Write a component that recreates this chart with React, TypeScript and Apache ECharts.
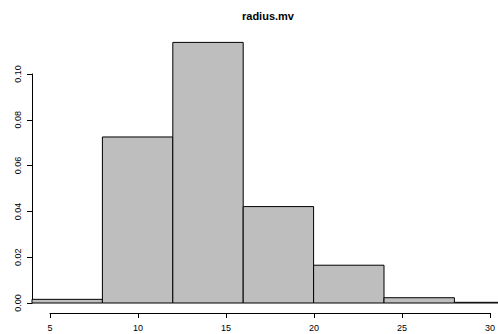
import React, { useEffect, useRef } from "react";
import * as echarts from "echarts";

const titleText = "radius.mv";
const breaks = [4, 8, 12, 16, 20, 24, 28];
const binWidth = 4;
const densities = [0.0016, 0.0725, 0.1138, 0.0421, 0.0165, 0.0023, 0.0003];
const xTicks = [5, 10, 15, 20, 25, 30];
const yTicks = [0, 0.02, 0.04, 0.06, 0.08, 0.1];

const FONT = "Liberation Sans, Arial, Helvetica, sans-serif";

export default function App() {
  const ref = useRef<HTMLDivElement>(null);
  useEffect(() => {
    if (!ref.current) return;
    const chart = echarts.init(ref.current, null, { renderer: "svg" });
    const data = breaks.map((b, i) => [b, b + binWidth, densities[i]]);
    chart.setOption({
      animation: false,
      backgroundColor: "#ffffff",
      title: {
        text: titleText,
        left: 242,
        top: 10,
        padding: 0,
        textStyle: { fontSize: 11, fontWeight: "bold", color: "#000", fontFamily: FONT },
      },
      grid: [
        { left: 32, right: 0, top: 74, bottom: 31 },
        { left: 50, right: 8, top: 290, bottom: 21 },
      ],
      xAxis: [
        {
          type: "value",
          gridIndex: 0,
          min: 4,
          max: 4 + 466 / 17.6,
          show: false,
        },
        {
          type: "value",
          gridIndex: 1,
          min: xTicks[0],
          max: xTicks[xTicks.length - 1],
          interval: 5,
          axisLine: { show: true, lineStyle: { color: "#000", width: 1 } },
          axisTick: { show: true, length: 5, lineStyle: { color: "#000" } },
          axisLabel: {
            show: true,
            fontSize: 9,
            color: "#000",
            fontFamily: FONT,
            margin: 10,
            formatter: (v: number) => (xTicks.includes(v) ? String(v) : ""),
          },
          splitLine: { show: false },
        },
      ],
      yAxis: [
        {
          type: "value",
          gridIndex: 0,
          min: yTicks[0],
          max: yTicks[yTicks.length - 1],
          interval: 0.02,
          axisLine: { show: true, lineStyle: { color: "#000", width: 1 } },
          axisTick: { show: true, length: 5, lineStyle: { color: "#000" } },
          axisLabel: { show: false },
          splitLine: { show: false },
        },
        { type: "value", gridIndex: 1, show: false, min: 0, max: 1 },
      ],
      series: [
        {
          type: "custom",
          xAxisIndex: 0,
          yAxisIndex: 0,
          clip: false,
          encode: { x: [0, 1], y: 2 },
          data,
          renderItem: (params: any, api: any) => {
            const x0 = api.value(0);
            const x1 = api.value(1);
            const y = api.value(2);
            const p0 = api.coord([x0, y]);
            const p1 = api.coord([x1, 0]);
            return {
              type: "rect",
              shape: { x: p0[0], y: p0[1], width: p1[0] - p0[0], height: p1[1] - p0[1] },
              style: { fill: "#bebebe", stroke: "#000", lineWidth: 1 },
            };
          },
        },
      ],
    });
    const labels = yTicks.map((v) => {
      const p = chart.convertToPixel({ gridIndex: 0 }, [breaks[0], v]) as number[];
      return {
        type: "text",
        x: p[0] - 10,
        y: p[1],
        rotation: Math.PI / 2,
        style: {
          text: v.toFixed(2),
          fill: "#000",
          font: `9px ${FONT}`,
          textAlign: "center",
          textVerticalAlign: "bottom",
        },
      };
    });
    chart.setOption({ graphic: labels });
    return () => chart.dispose();
  }, []);
  return (
    <div
      ref={ref}
      style={{ position: "fixed", left: 0, top: 0, width: 498, height: 334, background: "#fff" }}
    />
  );
}
